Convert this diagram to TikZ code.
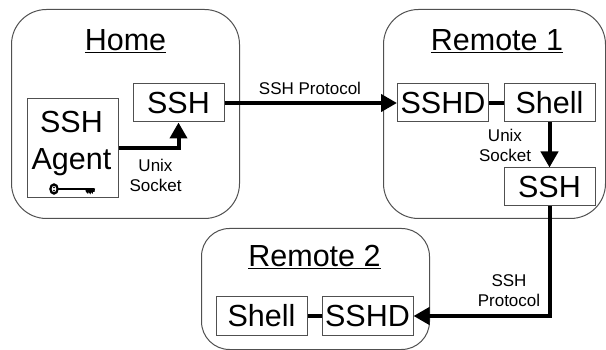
\documentclass[tikz,border=0pt]{standalone}
\usepackage{fontspec}
\setmainfont{Liberation Sans}
\usetikzlibrary{arrows.meta}
\definecolor{edgegray}{HTML}{505050}
\tikzset{
  x=1pt,y=-1pt,
  cont/.style={draw=edgegray,line width=1pt,rounded corners=35pt,inner sep=0pt,anchor=north west},
  boxn/.style={draw=edgegray,line width=1pt,fill=white,inner sep=0pt,minimum width=91pt,minimum height=38pt,anchor=center,font=\fontsize{30.5}{35}\selectfont},
  ttl/.style={inner sep=0pt,font=\fontsize{30.5}{35}\selectfont},
  lbl/.style={inner sep=0pt,align=center,font=\fontsize{17}{20.5}\selectfont},
  link/.style={line width=4pt,black},
  arr/.style={link,-{Triangle[length=16pt,width=17pt]}},
}
\begin{document}
\begin{tikzpicture}
\useasboundingbox (0,0) rectangle (606,350);
\fill[white] (0,0) rectangle (606,350);
% containers
\node[cont,minimum width=228pt,minimum height=209pt] (home) at (11,9) {};
\node[cont,minimum width=222pt,minimum height=209pt] (rem1) at (383,9) {};
\node[cont,minimum width=228pt,minimum height=121pt,rounded corners=28pt] (rem2) at (201,228) {};
% titles
\node[ttl] (thome) at (125.5,41) {\underline{Home}};
\node[ttl] (trem1) at (497,41) {\underline{Remote 1}};
\node[ttl] (trem2) at (314.5,257) {\underline{Remote 2}};
% boxes
\node[boxn,minimum height=99pt,align=center] (agent) at (72.5,148.5) {};
\node[ttl] (agentt) at (71.5,143.5) [align=center,font=\fontsize{30.5}{36.5}\selectfont] {SSH\\Agent};
\node[boxn] (ssh1) at (178.5,103) {SSH};
\node[boxn] (sshd1) at (443,103) {SSHD};
\node[boxn] (shell1) at (549.5,103) {Shell};
\node[boxn] (ssh2) at (549.5,187) {SSH};
\node[boxn] (shell2) at (261.5,316) {Shell};
\node[boxn] (sshd2) at (367.5,316) {SSHD};
% key
\draw[black,line width=2.2pt] (54,189) ellipse (3.6pt and 4.6pt);
\fill[black] (54,187.3) circle (1pt) (54,190.7) circle (1pt);
\draw[black,line width=1.5pt] (58,189) -- (94,189);
\fill[black] (85,188.5) -- (95,188.5) -- (94.5,192) -- (93,192) -- (92.5,194) -- (91,192) -- (90.5,194.5) -- (88.5,192) -- (88,194) -- (86,192) -- cycle;
% connectors
\draw[arr] (agent.east) -| (ssh1.south);
\draw[arr] (ssh1.east) -- (sshd1.west);
\draw[link] (sshd1.east) -- (shell1.west);
\draw[arr] (shell1.south) -- (ssh2.north);
\draw[arr] (ssh2.south) |- (sshd2.east);
\draw[link] (shell2.east) -- (sshd2.west);
% labels
\node[lbl] (l1) at (155.5,175.5) {Unix\\Socket};
\node[lbl] (l2) at (310,88) {SSH Protocol};
\node[lbl] (l3) at (505,145.5) {Unix\\Socket};
\node[lbl] (l4) at (509,290.5) {SSH\\Protocol};
\end{tikzpicture}
\end{document}
